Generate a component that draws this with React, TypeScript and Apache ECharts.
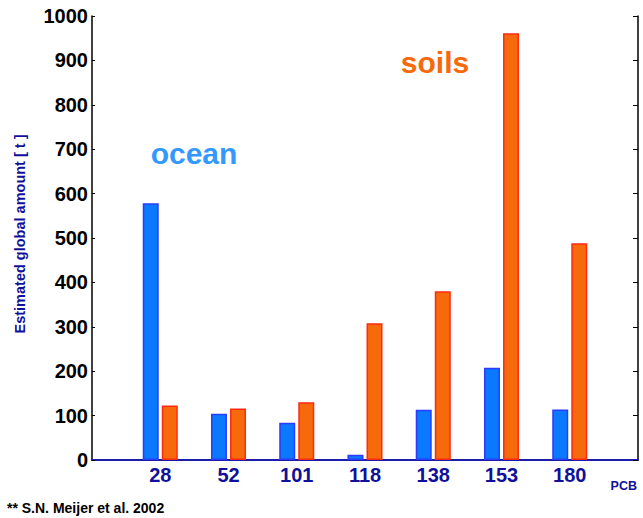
import React, { useEffect, useRef } from "react";
import * as echarts from "echarts";

// PCB congeners (padded with empty slots at both ends of the axis)
const congeners = ["", "28", "52", "101", "118", "138", "153", "180", ""];
// Estimated global amounts in tonnes
const oceanAmounts = [null, 578, 104, 84, 12, 113, 208, 114, null];
const soilAmounts = [null, 123, 116, 130, 308, 380, 961, 488, null];
const yTicks = { min: 0, max: 1000, interval: 100 };

const NAVY = "#10109a";
const FONT = "'Liberation Sans', Arial, sans-serif";

export default function App() {
  const ref = useRef<HTMLDivElement>(null);

  useEffect(() => {
    if (!ref.current) return;
    const chart = echarts.init(ref.current, null, { renderer: "svg" });
    chart.setOption({
      animation: false,
      backgroundColor: "#ffffff",
      grid: { left: 92, right: 5, top: 16, bottom: 58 },
      xAxis: [
        {
          type: "category",
          data: congeners,
          boundaryGap: false,
          axisLine: { lineStyle: { color: NAVY, width: 2 } },
          axisTick: { show: false },
          axisLabel: {
            color: NAVY,
            fontFamily: FONT,
            fontWeight: "bold",
            fontSize: 20,
            margin: 5,
            interval: 0,
          },
          splitLine: { show: false },
        },
        {
          type: "category",
          data: congeners,
          boundaryGap: false,
          position: "top",
          axisLine: { lineStyle: { color: "#2020b0", width: 1.5 } },
          axisTick: { show: false },
          axisLabel: { show: false },
        },
      ],
      yAxis: [
        {
          type: "value",
          min: yTicks.min,
          max: yTicks.max,
          interval: yTicks.interval,
          axisLine: { show: true, lineStyle: { color: "#000", width: 1.5 } },
          axisTick: { show: true, inside: true, length: 3, lineStyle: { color: "#000" } },
          axisLabel: {
            color: "#000",
            fontFamily: FONT,
            fontWeight: "bold",
            fontSize: 20,
            margin: 4,
            formatter: (v: number) => String(v),
          },
          splitLine: { show: false },
        },
        {
          type: "value",
          position: "right",
          min: yTicks.min,
          max: yTicks.max,
          interval: yTicks.interval,
          axisLine: { show: true, lineStyle: { color: "#000", width: 1.5 } },
          axisTick: { show: true, inside: true, length: 5, lineStyle: { color: "#000" } },
          axisLabel: { show: false },
          splitLine: { show: false },
        },
      ],
      series: [
        {
          name: "ocean",
          type: "bar",
          data: oceanAmounts,
          barWidth: 16,
          barGap: "19%",
          itemStyle: { color: "#0a78ff", borderColor: "#2a3cff", borderWidth: 1.5 },
        },
        {
          name: "soils",
          type: "bar",
          data: soilAmounts,
          barWidth: 16,
          itemStyle: { color: "#f66a0c", borderColor: "#ff2a12", borderWidth: 1.5 },
        },
      ],
      graphic: [
        {
          type: "text",
          x: 20,
          y: 234,
          rotation: Math.PI / 2,
          style: {
            text: "Estimated global amount [ t ]",
            fill: NAVY,
            font: `bold 14.5px ${FONT}`,
            align: "center",
            verticalAlign: "middle",
          },
        },
        {
          type: "text",
          x: 194,
          y: 153,
          style: {
            text: "ocean",
            fill: "#3399ff",
            font: `bold 30px ${FONT}`,
            align: "center",
            verticalAlign: "middle",
          },
        },
        {
          type: "text",
          x: 435,
          y: 62,
          style: {
            text: "soils",
            fill: "#f66a0c",
            font: `bold 30px ${FONT}`,
            align: "center",
            verticalAlign: "middle",
          },
        },
        {
          type: "text",
          x: 637,
          y: 486,
          style: {
            text: "PCB",
            fill: NAVY,
            font: `bold 12.5px ${FONT}`,
            align: "right",
            verticalAlign: "middle",
          },
        },
        {
          type: "text",
          x: 7,
          y: 508,
          style: {
            text: "** S.N. Meijer et al. 2002",
            fill: "#000",
            font: `bold 14px ${FONT}`,
            align: "left",
            verticalAlign: "middle",
          },
        },
      ],
    });
    return () => chart.dispose();
  }, []);

  return <div ref={ref} style={{ width: 643, height: 518, position: "absolute", left: 0, top: 0 }} />;
}
